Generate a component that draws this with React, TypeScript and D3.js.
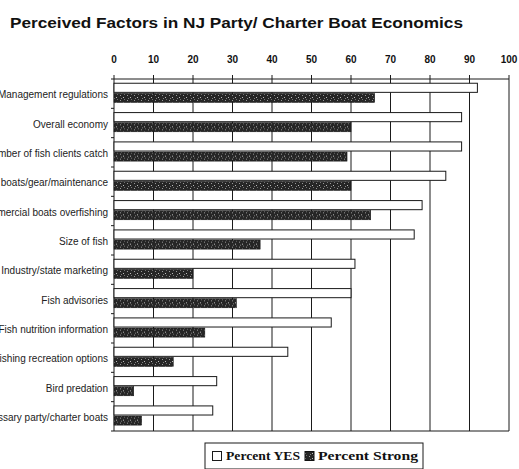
import * as d3 from "d3";

// chart values
const categories = [
  "Management regulations",
  "Overall economy",
  "Number of fish clients catch",
  "Cost of boats/gear/maintenance",
  "Commercial boats overfishing",
  "Size of fish",
  "Industry/state marketing",
  "Fish advisories",
  "Fish nutrition information",
  "Other fishing recreation options",
  "Bird predation",
  "Unnecessary party/charter boats",
];
const percentYes = [92, 88, 88, 84, 78, 76, 61, 60, 55, 44, 26, 25];
const percentStrong = [66, 60, 59, 60, 65, 37, 20, 31, 23, 15, 5, 7];
const seriesNames = ["Percent YES", "Percent Strong"];
const xTicks = [0, 10, 20, 30, 40, 50, 60, 70, 80, 90, 100];

const W = 519;
const H = 469;
const plot = { left: 114, right: 509, top: 79, bottom: 431 };

const x = d3.scaleLinear().domain([0, 100]).range([plot.left, plot.right]);
const y = d3.scaleBand<string>().domain(categories).range([plot.top, plot.bottom]);
const inner = d3
  .scaleBand<string>()
  .domain(seriesNames)
  .range([0, y.bandwidth()])
  .paddingInner(0.1)
  .paddingOuter(0.5)
  .align(0.42);

const lineColor = "#1a1a1a";

const App: React.FC = () => {
  return (
    <svg
      width={W}
      height={H}
      style={{ position: "absolute", left: 0, top: 0, background: "#fff" }}
      fontFamily="'Liberation Sans', Arial, sans-serif"
    >
      <defs>
        <pattern id="speckle" width="7" height="5" patternUnits="userSpaceOnUse">
          <rect width="7" height="5" fill="#262626" />
          <rect x="1" y="1" width="1" height="1" fill="#9a9a9a" />
          <rect x="4" y="3" width="1" height="1" fill="#bdbdbd" />
          <rect x="5" y="0" width="1" height="1" fill="#707070" />
          <rect x="2" y="4" width="1" height="1" fill="#808080" />
        </pattern>
      </defs>

      {/* title */}
      <text x={10} y={28} fontSize={15} fontWeight="bold" fill="#111" textLength={453} lengthAdjust="spacingAndGlyphs">
        Perceived Factors in NJ Party/ Charter Boat Economics
      </text>

      {/* top axis tick labels */}
      {xTicks.map((t) => (
        <text key={"tl" + t} x={x(t)} y={63} fontSize={10} fontWeight="bold" textAnchor="middle" fill="#111">
          {t}
        </text>
      ))}

      {/* gridlines */}
      {xTicks.map((t) => (
        <line key={"g" + t} x1={x(t)} x2={x(t)} y1={plot.top - 4} y2={plot.bottom} stroke={lineColor} strokeWidth={1} />
      ))}
      <line x1={plot.left} x2={plot.right} y1={plot.top} y2={plot.top} stroke={lineColor} />
      <line x1={plot.left - 3} x2={plot.right} y1={plot.bottom} y2={plot.bottom} stroke={lineColor} />

      {/* left axis ticks at category boundaries */}
      {categories.map((c) => (
        <line key={"lt" + c} x1={plot.left - 3} x2={plot.left} y1={y(c)!} y2={y(c)!} stroke={lineColor} />
      ))}

      {/* bars */}
      {categories.map((c, i) => (
        <g key={"b" + c} transform={`translate(0,${y(c)})`}>
          <rect
            x={x(0)}
            y={inner("Percent YES")}
            width={x(percentYes[i]) - x(0)}
            height={inner.bandwidth()}
            fill="#fff"
            stroke={lineColor}
            strokeWidth={1}
          />
          <rect
            x={x(0)}
            y={inner("Percent Strong")}
            width={x(percentStrong[i]) - x(0)}
            height={inner.bandwidth()}
            fill="url(#speckle)"
            stroke="#111"
            strokeWidth={0.5}
          />
        </g>
      ))}

      {/* category labels, cut at the left edge as in the scan */}
      {categories.map((c) => (
        <text
          key={"cl" + c}
          x={108}
          y={y(c)! + y.bandwidth() / 2 + 2}
          fontSize={10}
          textAnchor="end"
          dominantBaseline="middle"
          fill="#222"
        >
          {c}
        </text>
      ))}

      {/* legend */}
      <g fontFamily="'Liberation Serif', 'Times New Roman', serif">
        <rect x={205} y={443} width={218} height={26} fill="#fff" stroke={lineColor} />
        <rect x={212.5} y={451.5} width={9} height={9} fill="#fff" stroke={lineColor} />
        <text x={226} y={460} fontSize={13} fontWeight="bold" fill="#111" textLength={74} lengthAdjust="spacingAndGlyphs">
          {seriesNames[0]}
        </text>
        <rect x={305} y={451.5} width={9} height={9} fill="url(#speckle)" stroke="#111" />
        <text x={318} y={460} fontSize={13} fontWeight="bold" fill="#111" textLength={100} lengthAdjust="spacingAndGlyphs">
          {seriesNames[1]}
        </text>
      </g>
    </svg>
  );
};

export default App;
